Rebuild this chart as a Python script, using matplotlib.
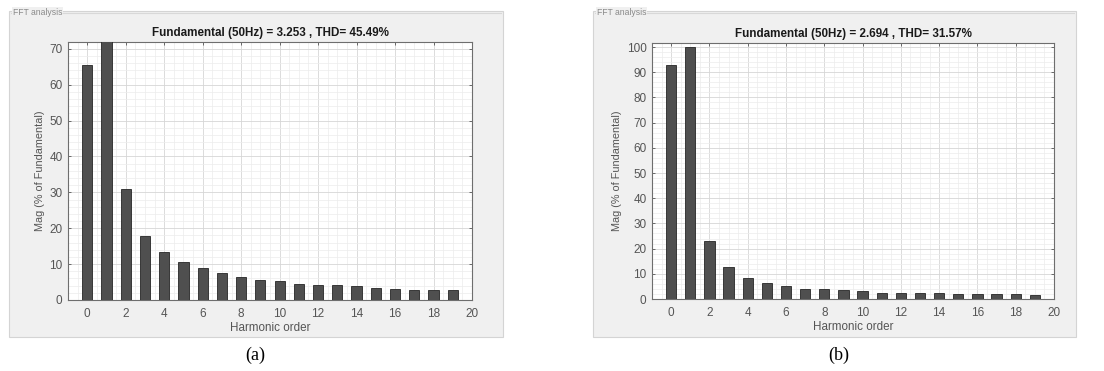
import numpy as np
import matplotlib
matplotlib.use("Agg")
import matplotlib.pyplot as plt
from matplotlib.patches import Rectangle
from matplotlib.ticker import MultipleLocator

plt.rcParams["font.family"] = ["Liberation Sans", "DejaVu Sans"]

harmonics = list(range(20))

mag_a = [65.5, 100.0, 30.8, 17.9, 13.3, 10.6, 8.9, 7.6, 6.3, 5.7,
         5.3, 4.5, 4.2, 4.2, 3.9, 3.3, 3.2, 2.9, 2.9, 2.7]
mag_b = [92.9, 100.0, 23.2, 12.6, 8.2, 6.5, 5.3, 4.1, 4.1, 3.7,
         3.2, 2.5, 2.5, 2.5, 2.2, 2.1, 2.1, 2.1, 1.85, 1.6]

title_a = "Fundamental (50Hz) = 3.253 , THD= 45.49%"
title_b = "Fundamental (50Hz) = 2.694 , THD= 31.57%"
ylim_a = 71.9
ylim_b = 101.6
yticks_a = list(range(0, 71, 10))
yticks_b = list(range(0, 101, 10))
xticks = list(range(0, 21, 2))

W, H = 1104, 371
fig = plt.figure(figsize=(W / 100, H / 100), dpi=100)
fig.patch.set_facecolor("white")


def px_rect(x0, y0, x1, y1):
    """Convert pixel box (top-left origin) to figure fraction rect."""
    return [x0 / W, 1 - y1 / H, (x1 - x0) / W, (y1 - y0) / H]


def group_box(x0, y0, x1, y1):
    r = px_rect(x0, y0, x1, y1)
    fig.patches.append(Rectangle((r[0], r[1]), r[2], r[3], transform=fig.transFigure,
                                 facecolor="#f0f0f0", edgecolor="#d4d4d4", lw=0.8, zorder=-5))
    # inner frame line of the panel group box
    fig.add_artist(plt.Line2D([(x0 + 2) / W, (x1 - 2) / W], [1 - (y0 + 1.5) / H] * 2,
                              transform=fig.transFigure, color="#d8d8d8", lw=0.8, zorder=-4))
    fig.text((x0 + 4) / W, 1 - (y0 + 1.5) / H, "FFT analysis", fontsize=6.2, color="#8a8a8a",
             ha="left", va="center", zorder=-3,
             bbox=dict(facecolor="#f0f0f0", edgecolor="none", pad=0.5))


def panel(rect, values, title, ytop, yticks, ylabel_pad):
    ax = fig.add_axes(rect)
    ax.set_facecolor("white")
    ax.bar(harmonics, values, width=0.53, color="#4f4f4f", edgecolor="#262626",
           linewidth=0.6, zorder=3)
    ax.set_xlim(-1, 20)
    ax.set_ylim(0, ytop)
    ax.set_xticks(xticks)
    ax.set_yticks(yticks)
    ax.xaxis.set_minor_locator(MultipleLocator(0.5))
    ax.yaxis.set_minor_locator(MultipleLocator(2))
    ax.grid(True, which="major", color="#d6d6d6", lw=0.6, zorder=0)
    ax.grid(True, which="minor", color="#ececec", lw=0.5, zorder=0)
    ax.set_axisbelow(True)
    ax.tick_params(which="both", direction="in", top=True, right=True,
                   colors="#555555", labelsize=8.5, length=2.5, width=0.6)
    ax.tick_params(axis="x", pad=6)
    ax.tick_params(axis="y", pad=4)
    ax.tick_params(which="minor", length=0)
    for s in ax.spines.values():
        s.set_color("#6e6e6e")
        s.set_linewidth(0.8)
    ax.set_title(title, fontsize=8.4, fontweight="bold", color="#1a1a1a", pad=4)
    ax.set_xlabel("Harmonic order", fontsize=8.4, color="#555555", labelpad=1)
    ax.set_ylabel("Mag (% of Fundamental)", fontsize=7.8, color="#555555", labelpad=ylabel_pad)
    return ax


group_box(9, 11, 503, 337)
group_box(593, 11, 1076, 337)

panel(px_rect(68, 42, 472, 300), mag_a, title_a, ylim_a, yticks_a, 3)
panel(px_rect(652, 43, 1054, 299), mag_b, title_b, ylim_b, yticks_b, 3)

fig.text(255 / W, 1 - 355 / H, "(a)", family="Liberation Serif", fontsize=13,
         ha="center", va="center", color="black")
fig.text(839 / W, 1 - 355 / H, "(b)", family="Liberation Serif", fontsize=13,
         ha="center", va="center", color="black")

fig.savefig("out.png", dpi=100)
